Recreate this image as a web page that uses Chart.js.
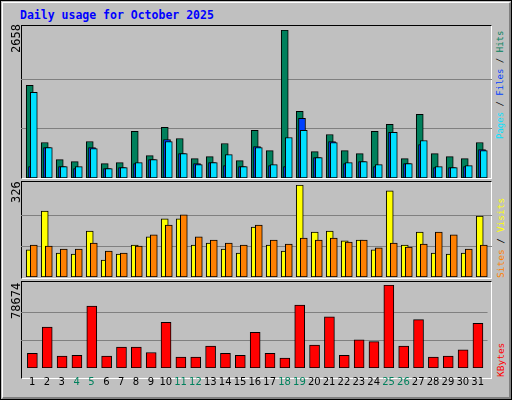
<!DOCTYPE html>
<html><head><meta charset="utf-8">
<script src="https://cdn.jsdelivr.net/npm/chart.js@4"></script>
<style>
html,body{margin:0;padding:0;background:#fff}
#frame{position:absolute;left:0;top:0;width:510px;height:398px;border:1px solid #000;background:#C0C0C0;overflow:hidden}
#bevel{position:absolute;left:1px;top:1px;width:506px;height:394px;border-top:1px solid #fff;border-left:1px solid #fff;border-right:2px solid #808080;border-bottom:2px solid #808080}
.panel{position:absolute;left:20px;width:471px;border-top:1px solid #000;border-left:1px solid #000;border-right:1px solid #fff;border-bottom:1px solid #fff;box-sizing:border-box}
.cv{position:absolute}
.rot{position:absolute;transform-origin:0 0;transform:rotate(-90deg);white-space:nowrap;font-family:"DejaVu Sans Mono",monospace}
#title{position:absolute;left:19px;top:7px;font:bold 11.5px "DejaVu Sans Mono",monospace;color:#0000FF}
</style></head><body>
<div id="frame"><div id="bevel"></div>
<div id="title">Daily usage for October 2025</div>
<div class="panel" style="top:24px;height:154px"></div>
<div class="panel" style="top:180px;height:98px"></div>
<div class="panel" style="top:280px;height:98px"></div>
<div class="cv" style="left:20px;top:29px;width:471px;height:148px"><canvas id="c1"></canvas></div>
<div class="cv" style="left:20px;top:184px;width:471px;height:92px"><canvas id="c2"></canvas></div>
<div class="cv" style="left:20px;top:284px;width:471px;height:116px"><canvas id="c3"></canvas></div>
<div class="rot" style="left:8px;top:52px;font-size:12px;color:#000">2658</div>
<div class="rot" style="left:8px;top:202px;font-size:12px;color:#000">326</div>
<div class="rot" style="left:8px;top:318px;font-size:12px;color:#000">78674</div>
<div class="rot" style="left:494px;top:138px;font-size:9px"><span style="color:#00E0FF">Pages</span><span style="color:#000"> / </span><span style="color:#0040FF">Files</span><span style="color:#000"> / </span><span style="color:#00805C">Hits</span></div>
<div class="rot" style="left:494px;top:277px;font-size:9.5px"><span style="color:#FF8000">Sites</span><span style="color:#000"> / </span><span style="color:#FFFF00">Visits</span></div>
<div class="rot" style="left:494px;top:376px;font-size:9.5px;color:#FF0000">KBytes</div>
</div>
<script>
const days = Array.from({length:31},(_,i)=>i+1);
const weekendDays = [4,5,11,12,18,19,25,26];
const hits  = [1666,637,331,295,655,259,277,836,403,908,710,349,385,619,313,854,493,2658,1197,475,782,493,439,836,962,349,1143,439,385,349,637];
const files = [204,547,204,168,547,168,186,259,331,692,439,259,277,222,204,565,222,204,1070,367,655,259,295,204,818,259,601,186,186,204,511];
const pages = [1540,547,204,204,529,168,186,277,331,655,439,241,277,421,204,547,241,728,854,367,637,277,295,241,818,259,674,204,186,222,493];
const visits= [96,234,85,81,163,60,81,113,142,206,206,113,120,99,85,177,113,92,326,159,163,128,131,96,305,113,159,85,81,85,216];
const sites = [113,110,99,99,120,92,85,110,149,184,220,142,131,120,113,184,131,117,138,131,138,124,131,103,120,106,117,159,149,99,113];
const kbytes= [13833,38905,11239,12104,58790,11239,19885,19885,14697,43228,10375,10375,20749,13833,12104,33718,13833,9510,59654,21614,48415,12104,26801,25072,78674,20749,45821,10375,11239,17291,42363];

const XMIN = 1-11/15, XMAX = XMIN + 471/15;
function pts(arr, off){ return arr.map((v,i)=>({x:days[i]+off, y:v})); }
function ds(arr, off, color, w){ return {data:pts(arr,off), backgroundColor:color, borderColor:'#000', borderWidth:1, borderSkipped:false, barThickness:w, grouped:false}; }
function yScale(max){
  return {min:0,max:max,display:true,border:{display:false},ticks:{display:false},
    grid:{color:'#808080',lineWidth:1,drawTicks:false},
    afterBuildTicks:s=>{s.ticks=[{value:max/3},{value:2*max/3}];},
    afterFit:s=>{s.width=0;}};
}
function xScale(show){
  return {type:'linear',offset:false,min:XMIN,max:XMAX,display:show,border:{display:false},grid:{display:false,drawTicks:false,offset:false},
    afterBuildTicks:s=>{s.ticks=days.map(d=>({value:d}));},
    ticks:{autoSkip:false,maxRotation:0,padding:8,font:{family:'DejaVu Sans',size:10},
      color:c=>weekendDays.includes(c.tick.value)?'#00805C':'#000',
      callback:v=>String(v)}};
}
function make(id, datasets, max, showX, pad){
  new Chart(document.getElementById(id),{type:'bar',data:{datasets},
    options:{responsive:true,maintainAspectRatio:false,animation:false,
      layout:{padding:pad||0},
      plugins:{legend:{display:false},tooltip:{enabled:false}},
      scales:{x:xScale(showX),y:yScale(max)}}});
}
make('c1',[ds(pages,0.12,'#00E0FF',7),ds(files,0,'#0040FF',7),ds(hits,-0.15,'#00805C',7)],2658,false);
make('c2',[ds(sites,0.12,'#FF8000',7),ds(visits,-0.15,'#FFFF00',7)],326,false);
make('c3',[ds(kbytes,0.02,'#FF0000',10)],78674,true,{bottom:5});
</script>
</body></html>
